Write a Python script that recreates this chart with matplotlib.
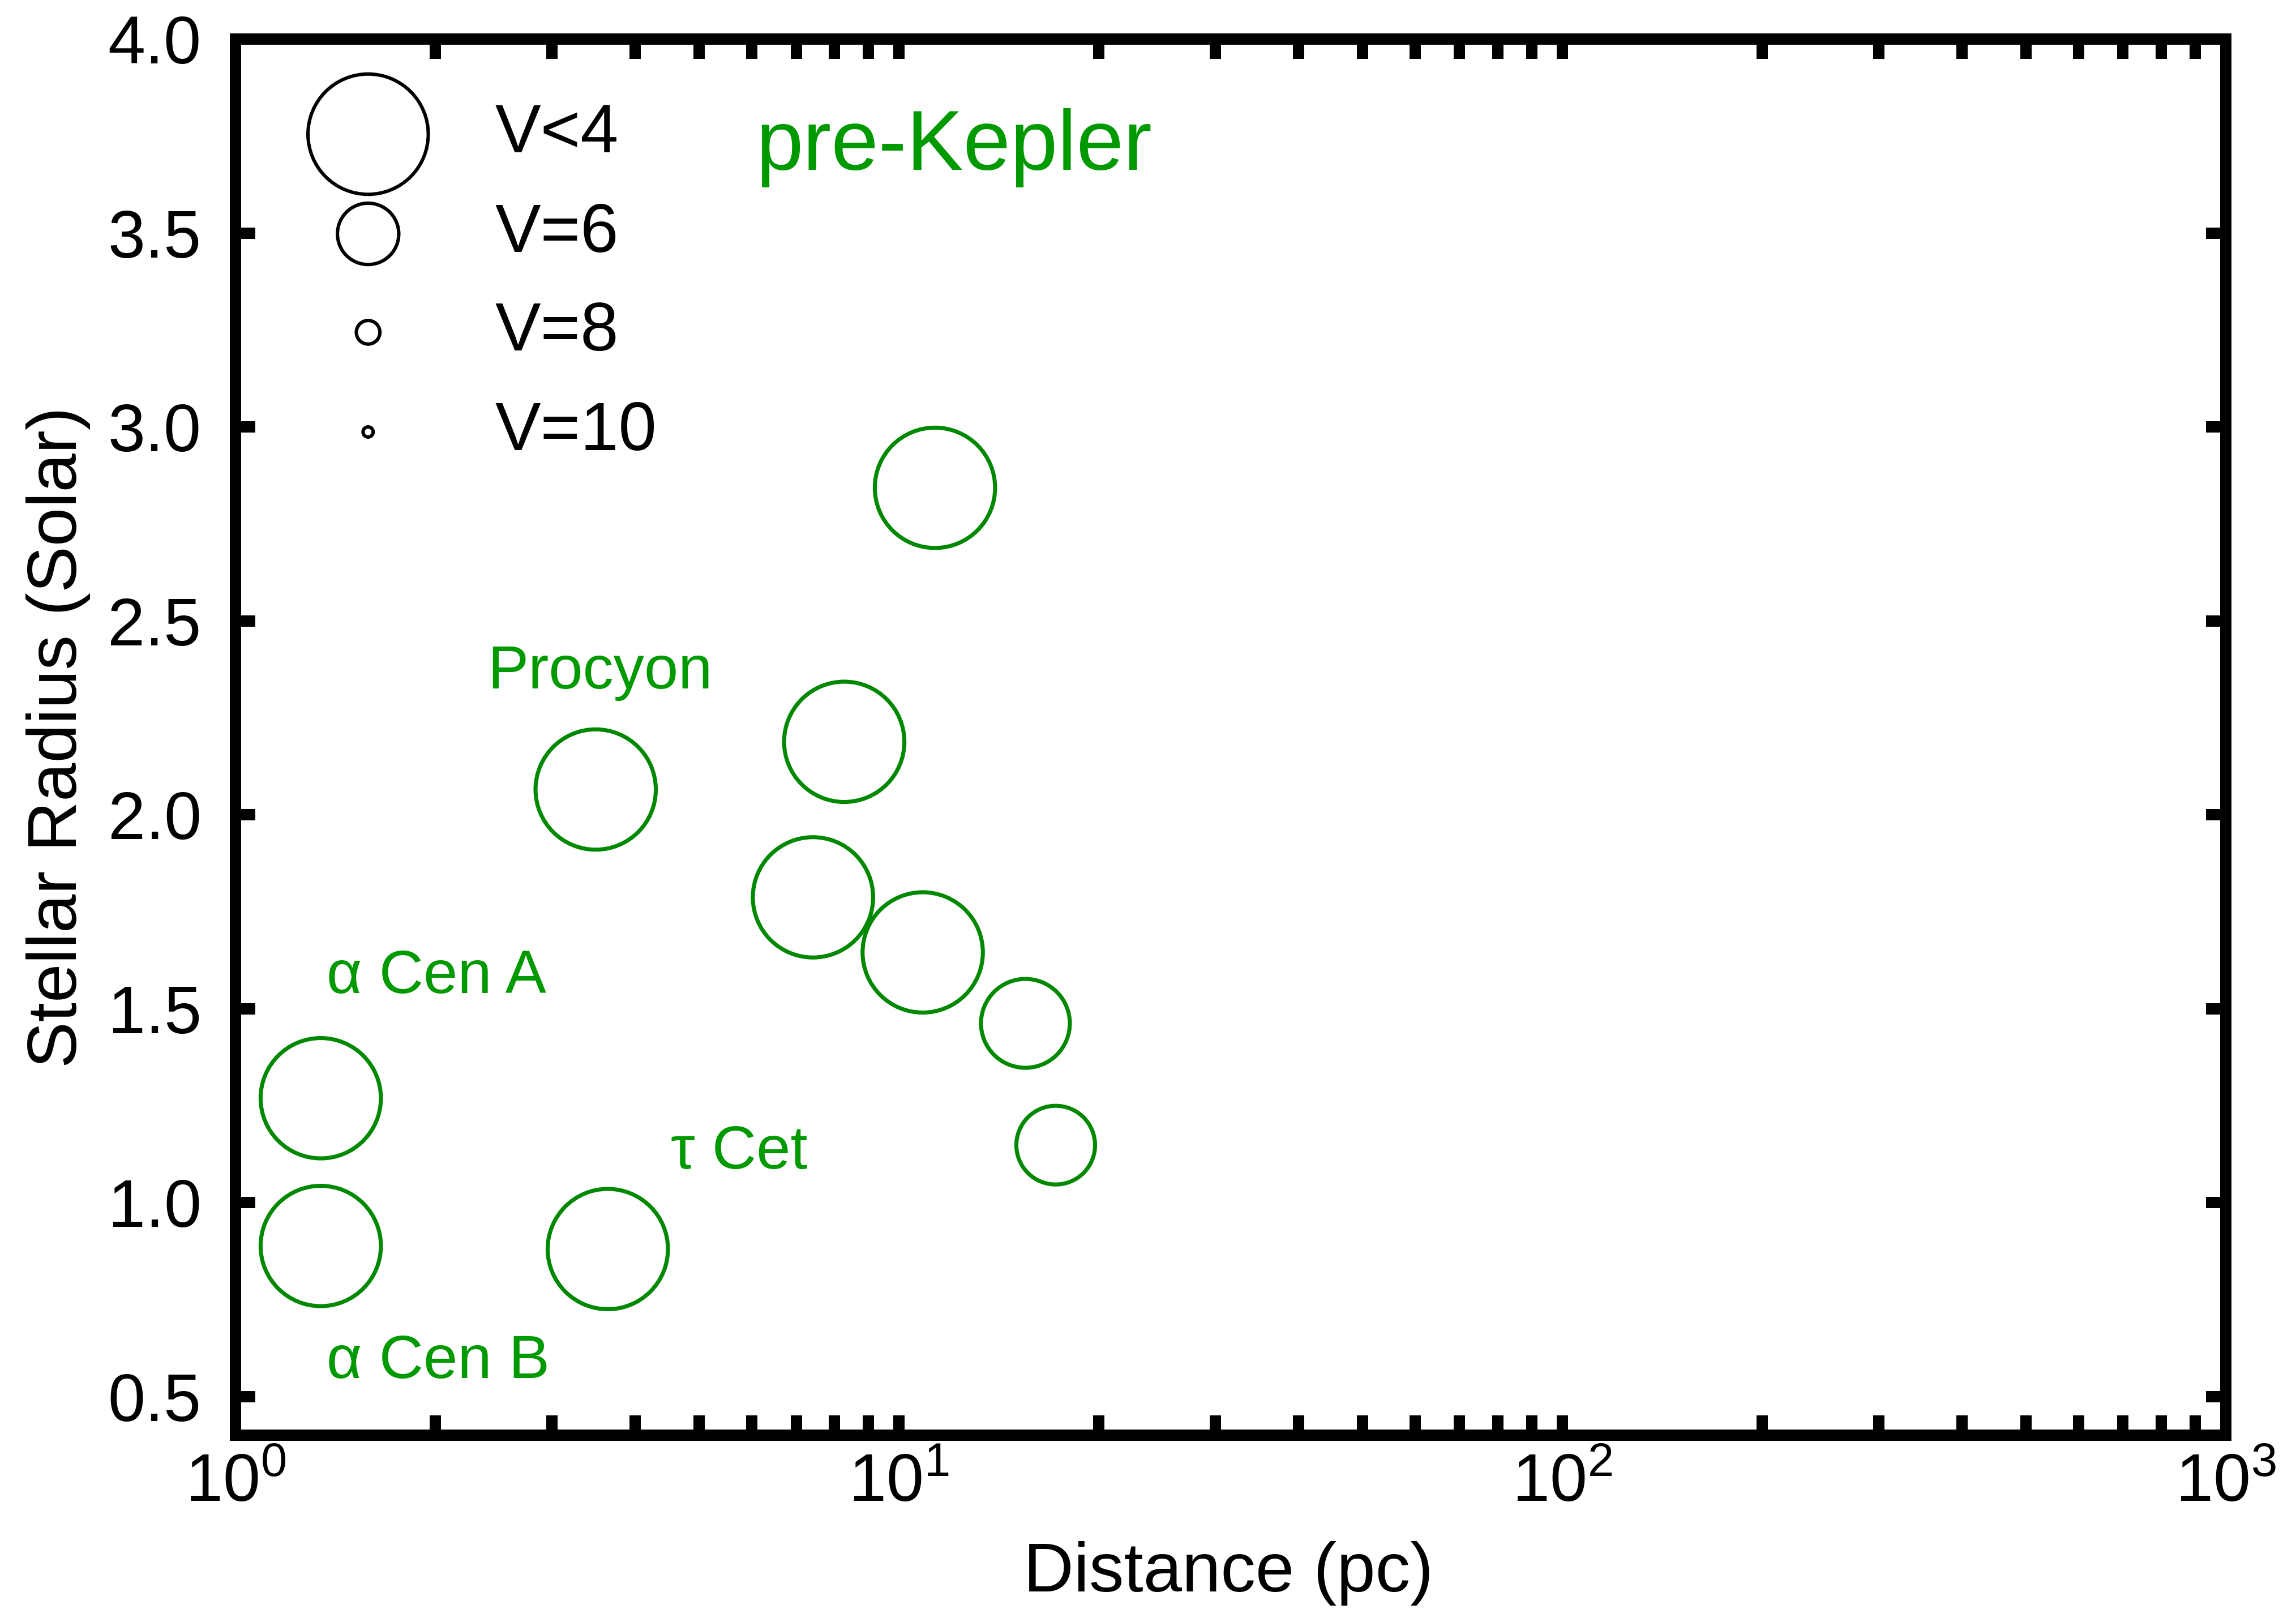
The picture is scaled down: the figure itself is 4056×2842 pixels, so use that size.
import numpy as np
import matplotlib
matplotlib.use("Agg")
import matplotlib.pyplot as plt
from matplotlib.ticker import LogLocator, NullLocator, FixedLocator, FixedFormatter, NullFormatter

plt.rcParams['font.family'] = ['Liberation Sans', 'DejaVu Sans']
plt.rcParams['mathtext.fontset'] = 'custom'
plt.rcParams['mathtext.rm'] = 'Liberation Sans'
plt.rcParams['mathtext.it'] = 'Liberation Sans:italic'
plt.rcParams['mathtext.bf'] = 'Liberation Sans:bold'

# ---- data ----
star_names = ["alpha Cen A", "alpha Cen B", "Procyon", "tau Cet", "eta Boo",
              "delta Eri", "beta Hyi", "beta Vir", "mu Ara", "iota Hor"]
distance_pc = [1.344, 1.344, 3.49, 3.64, 11.33, 8.27, 7.42, 10.86, 15.51, 17.23]
radius_solar = [1.269, 0.888, 2.065, 0.880, 2.843, 2.188, 1.787, 1.645, 1.462, 1.148]
vmag = [0.0, 1.3, 0.4, 3.5, 2.7, 3.5, 2.8, 3.6, 4.9, 5.26]

legend_vmag = [4, 6, 8, 10]
legend_labels = ["V<4", "V=6", "V=8", "V=10"]

annot_labels = ["\u03b1 Cen A", "\u03b1 Cen B", "Procyon", "\u03c4 Cet"]

ytick_vals = [0.5, 1.0, 1.5, 2.0, 2.5, 3.0, 3.5, 4.0]
ytick_labels = ["0.5", "1.0", "1.5", "2.0", "2.5", "3.0", "3.5", "4.0"]
xtick_vals = [1, 10, 100, 1000]
xtick_labels = [r"$\mathregular{10^{0}}$", r"$\mathregular{10^{1}}$",
                r"$\mathregular{10^{2}}$", r"$\mathregular{10^{3}}$"]

# ---- marker size mapping (diameter in points) ----
_size_v = [4, 6, 8, 10]
_size_d = [51.0, 26.0, 10.0, 4.3]


def vmag_to_diam(v):
    v = np.clip(np.asarray(v, dtype=float), 4, 10)
    return 10 ** np.interp(v, _size_v, np.log10(_size_d))


GREEN_MARK = "#008800"
GREEN_TEXT = "#009900"
FS_TICK = 28.5
FS_LAB = 29.5
FS_LEG = 29.0

fig = plt.figure(figsize=(4056 / 300, 2842 / 300), dpi=300)
ax = fig.add_axes([0.1026, 0.1080, 0.9694 - 0.1026, 0.9757 - 0.1080])

d = vmag_to_diam(vmag)
ax.scatter(distance_pc, radius_solar, s=d ** 2, facecolors="none",
           edgecolors=GREEN_MARK, linewidths=1.7, zorder=3)

ax.set_xscale("log")
ax.set_xlim(1, 1000)
ax.set_ylim(0.4, 4.0)

ax.xaxis.set_major_locator(FixedLocator(xtick_vals))
ax.xaxis.set_major_formatter(FixedFormatter(xtick_labels))
ax.xaxis.set_minor_locator(LogLocator(base=10, subs=np.arange(2, 10)))
ax.xaxis.set_minor_formatter(NullFormatter())
ax.yaxis.set_major_locator(FixedLocator(ytick_vals))
ax.yaxis.set_major_formatter(FixedFormatter(ytick_labels))
ax.yaxis.set_minor_locator(NullLocator())

for sp in ax.spines.values():
    sp.set_linewidth(4.8)
    sp.set_capstyle("projecting")

ax.tick_params(which="both", direction="in", length=8.3, width=4.8,
               top=True, right=True, labelsize=FS_TICK)
ax.tick_params(axis="x", which="major", pad=7.5)
ax.tick_params(axis="y", which="major", pad=14.5)

ax.set_xlabel("Distance (pc)", fontsize=FS_LAB, va="baseline")
ax.xaxis.set_label_coords(0.499, -0.1119)
ax.set_ylabel("Stellar Radius (Solar)", fontsize=FS_LAB, va="baseline")
ax.yaxis.set_label_coords(-0.0799, 0.5)

# legend drawn inside the axes
leg_y = [0.9319, 0.8605, 0.7900, 0.7186]
ax.scatter([0.0666] * 4, leg_y, s=vmag_to_diam(legend_vmag) ** 2,
           facecolors="none", edgecolors="black", linewidths=1.45,
           transform=ax.transAxes, zorder=3, clip_on=False)
for y, lab in zip(leg_y, legend_labels):
    ax.text(0.1303, y - 0.013, lab, transform=ax.transAxes, fontsize=FS_LEG,
            ha="left", va="baseline", color="black")

# star annotations
annot_pos = [(0.0458, 0.3167), (0.0458, 0.0410), (0.1266, 0.5349), (0.2186, 0.1910)]
for (x, y), lab in zip(annot_pos, annot_labels):
    ax.text(x, y, lab, transform=ax.transAxes, fontsize=26,
            ha="left", va="baseline", color=GREEN_TEXT)

ax.text(0.2614, 0.9063, "pre-Kepler", transform=ax.transAxes, fontsize=36,
        ha="left", va="baseline", color=GREEN_TEXT)

fig.savefig("out.png", dpi=300, facecolor="white")
